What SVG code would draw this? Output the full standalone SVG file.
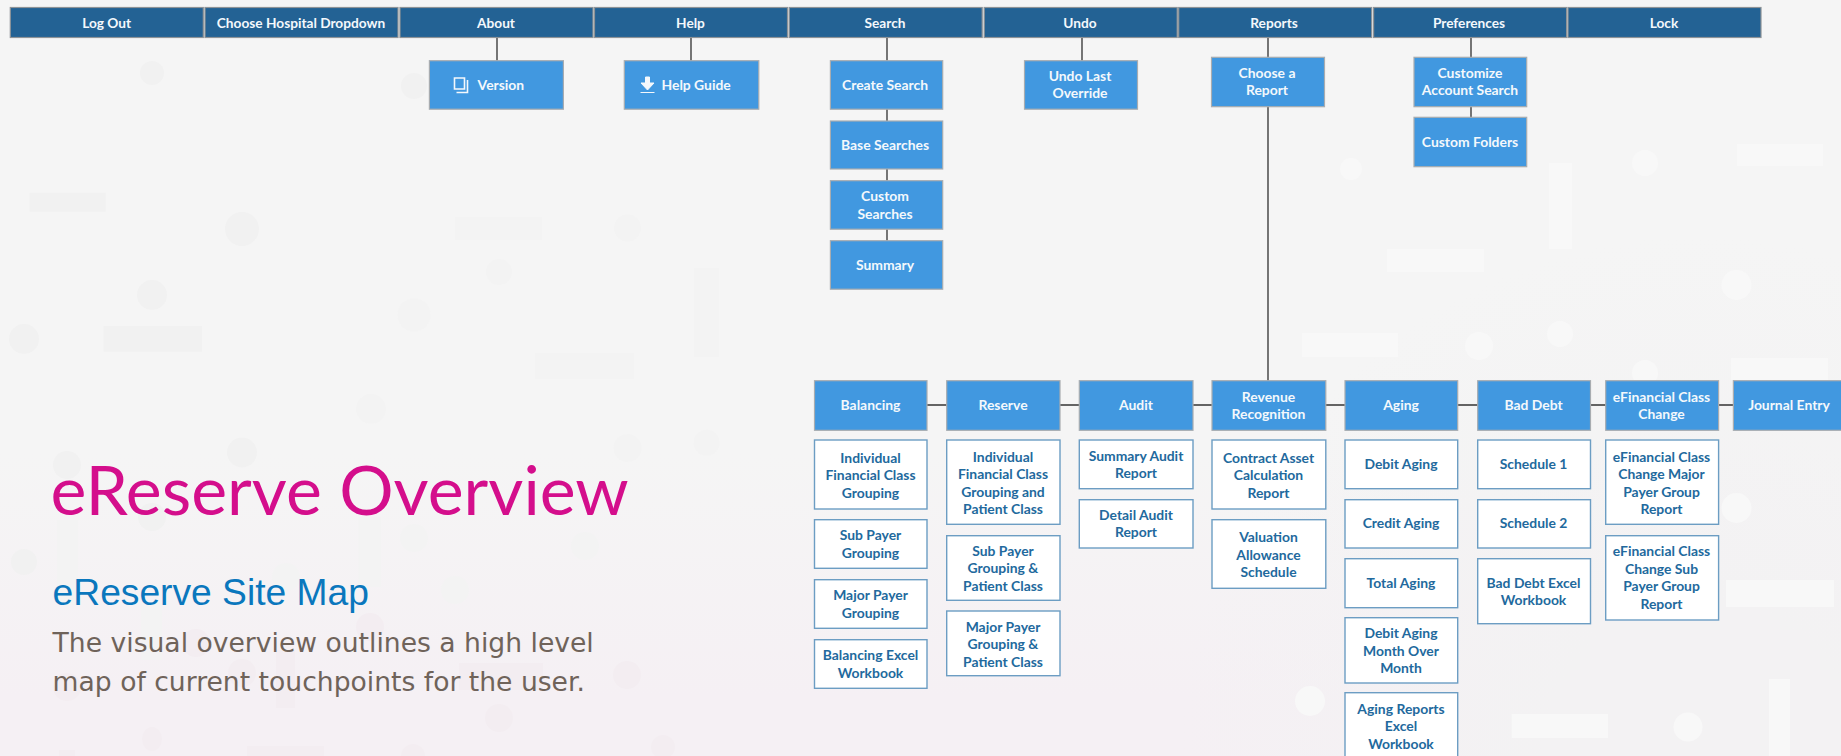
<svg xmlns="http://www.w3.org/2000/svg" width="1841" height="756" viewBox="0 0 1841 756">
<style>
text{font-family:"Lato","Noto Sans",sans-serif;font-weight:700;font-size:13.9px;text-anchor:middle}
.top rect{fill:#236294;stroke:#8e9397;stroke-width:1.2}
.top text{font-size:13.7px}
.top text,.blue text{fill:#f4f8fc}
.blue rect{fill:#4198e0;stroke:#a8acb0;stroke-width:1.2}
.sub rect{fill:#fff;stroke:#6c9dc3;stroke-width:1.4}
.sub text{fill:#22699d}
.dk{fill:#f1f1f1}.md{fill:#f3f3f3}.lt{fill:#f8f8f8}.pk{fill:#f3edf1}
#connectors path{stroke:#555;stroke-width:1.6;fill:none}
#connectors path.h{stroke:#333}
</style>
<defs>
<linearGradient id="bg" x1="0" y1="0" x2="0" y2="1"><stop offset="0.6" stop-color="#f5f5f5"/><stop offset="0.92" stop-color="#f5f0f4"/></linearGradient>
<radialGradient id="gr" gradientUnits="userSpaceOnUse" cx="1700" cy="756" r="520"><stop offset="0.3" stop-color="#f3f2f3"/><stop offset="1" stop-color="#f3f2f3" stop-opacity="0"/></radialGradient>
</defs>
<rect width="1841" height="756" fill="url(#bg)"/>
<rect width="1841" height="756" fill="url(#gr)"/>
<g id="background">
<g class="dk">
<ellipse cx="152" cy="73" rx="12" ry="12"/><ellipse cx="242" cy="229" rx="17" ry="17"/><ellipse cx="152" cy="295" rx="15" ry="15"/><ellipse cx="24" cy="339" rx="15" ry="15"/><ellipse cx="414" cy="86" rx="13" ry="13"/>
<rect x="29.600" y="192.700" width="76" height="19"/><rect x="103.600" y="326" width="98.400" height="25.700"/>
<ellipse cx="242" cy="452.500" rx="15" ry="15"/><ellipse cx="67" cy="465" rx="14" ry="14"/><ellipse cx="152" cy="517" rx="14" ry="14"/><ellipse cx="24" cy="562" rx="13" ry="13"/>
</g>
<g class="md">
<ellipse cx="414" cy="315" rx="16.500" ry="16.500"/><ellipse cx="499" cy="272" rx="13" ry="13"/><ellipse cx="627.500" cy="228" rx="13.500" ry="13.500"/><ellipse cx="371" cy="409" rx="15" ry="15"/><ellipse cx="627.500" cy="448" rx="14" ry="14"/><ellipse cx="706.600" cy="442.700" rx="13" ry="13"/><ellipse cx="414" cy="538" rx="14" ry="14"/><ellipse cx="585" cy="546" rx="14" ry="14"/><ellipse cx="286" cy="577" rx="14" ry="14"/><ellipse cx="455" cy="590" rx="14" ry="14"/>
<rect x="455" y="216.700" width="87" height="23.300"/><rect x="535" y="352.700" width="99" height="26.600"/><rect x="694" y="268" width="25" height="89"/><rect x="57" y="520" width="21" height="85"/><rect x="358.600" y="517" width="22.400" height="70"/><rect x="141" y="603" width="21" height="57"/>
</g>
<g class="pk">
<ellipse cx="370" cy="627" rx="14" ry="14"/><ellipse cx="196" cy="643" rx="14" ry="14"/><ellipse cx="242" cy="673" rx="14" ry="14"/><ellipse cx="67" cy="687" rx="14" ry="14"/><ellipse cx="627" cy="675" rx="14" ry="14"/><ellipse cx="152" cy="739" rx="10" ry="12"/><ellipse cx="499" cy="718" rx="14" ry="14"/><ellipse cx="413" cy="756" rx="12" ry="12"/><ellipse cx="663" cy="747" rx="12" ry="12"/>
<rect x="276" y="650" width="19" height="58"/><rect x="459" y="663" width="84" height="27"/><rect x="247" y="746" width="77" height="10"/><rect x="59" y="750" width="16" height="6"/>
</g>
<g class="lt">
<rect x="1549" y="163" width="23" height="86"/><rect x="1387" y="249" width="97" height="23"/><rect x="1737" y="144" width="86" height="22"/><rect x="1302" y="333" width="96" height="24"/><rect x="1731" y="358" width="97" height="22"/><rect x="1726" y="580" width="108" height="27"/><rect x="1511.700" y="714" width="96.300" height="24"/><rect x="1769" y="679" width="21" height="77"/>
<ellipse cx="1351" cy="169" rx="11" ry="11"/><ellipse cx="1645" cy="163" rx="13" ry="13"/><ellipse cx="1736.500" cy="285" rx="15" ry="15"/><ellipse cx="1479" cy="346" rx="14" ry="14"/><ellipse cx="1560" cy="334" rx="13" ry="13"/><ellipse cx="1645" cy="373" rx="13" ry="13"/><ellipse cx="1736.500" cy="508" rx="15" ry="15"/><ellipse cx="1688" cy="727" rx="14.500" ry="14.500"/><ellipse cx="1310" cy="701" rx="15" ry="15"/>
</g>
</g>
<g id="connectors">
<path d="M497 37V61M691 37V61M887 37V241M1082 37V61M1268 37V381M1471 37V118"/>
<path class="h" d="M927 405H1734"/>
</g>
<g id="title">
<text x="50.5" y="515" style="font-family:'Lato',sans-serif;font-weight:400;font-size:68px;text-anchor:start;fill:#d40e8c">eReserve Overview</text>
<text x="52.6" y="605" style="font-family:'Liberation Sans',sans-serif;font-weight:400;font-size:37.2px;text-anchor:start;fill:#0a77bd">eReserve Site Map</text>
<text x="52.6" y="652" style="font-family:'DejaVu Sans',sans-serif;font-weight:400;font-size:26.6px;text-anchor:start;fill:#6f635a">The visual overview outlines a high level</text>
<text x="52.6" y="691" style="font-family:'DejaVu Sans',sans-serif;font-weight:400;font-size:26.6px;text-anchor:start;fill:#6f635a">map of current touchpoints for the user.</text>
</g>
<g class="top">
<g id="log-out"><rect x="10.3" y="7.5" width="193" height="30"/><text x="106.6" y="27.5">Log Out</text></g>
<g id="choose-hospital"><rect x="205" y="7.5" width="193" height="30"/><text x="301" y="27.5">Choose Hospital Dropdown</text></g>
<g id="about"><rect x="400" y="7.5" width="193" height="30"/><text x="496" y="27.5">About</text></g>
<g id="help"><rect x="594.5" y="7.5" width="193" height="30"/><text x="690.5" y="27.5">Help</text></g>
<g id="search"><rect x="789.2" y="7.5" width="193" height="30"/><text x="885" y="27.5">Search</text></g>
<g id="undo"><rect x="984.2" y="7.5" width="193" height="30"/><text x="1080" y="27.5">Undo</text></g>
<g id="reports"><rect x="1178.7" y="7.5" width="193" height="30"/><text x="1274" y="27.5">Reports</text></g>
<g id="preferences"><rect x="1373.6" y="7.5" width="193" height="30"/><text x="1469" y="27.5">Preferences</text></g>
<g id="lock"><rect x="1568" y="7.5" width="193" height="30"/><text x="1664" y="27.5">Lock</text></g>
</g>
<g class="blue">
<g id="version"><rect x="429.4" y="60.7" width="134" height="48.5"/>
<path d="M454.5 78h10v11h-10z M467.5 80v12.5h-11" fill="none" stroke="#f4f8fc" stroke-width="1.6"/>
<text x="477.6" y="90" style="text-anchor:start">Version</text></g>
<g id="help-guide"><rect x="624.3" y="60.7" width="134.5" height="48.5"/>
<path d="M645.5 77h4v6h4.500l-6.500 7-6.500-7h4.500zM640.500 92.500h14" fill="#f4f8fc" stroke="#f4f8fc" stroke-width="1"/>
<text x="661.5" y="90" style="text-anchor:start">Help Guide</text></g>
<g id="create-search"><rect x="830.4" y="60.7" width="112.300" height="48.5"/><text x="885" y="89.5">Create Search</text></g>
<g id="base-searches"><rect x="830.4" y="121" width="112.300" height="48"/><text x="885" y="150">Base Searches</text></g>
<g id="custom-searches"><rect x="830.4" y="180.700" width="112.300" height="48.500"/><text x="885" y="201">Custom</text><text x="885" y="218.500">Searches</text></g>
<g id="summary"><rect x="830.4" y="240.700" width="112.300" height="48.500"/><text x="885" y="270">Summary</text></g>
<g id="undo-last"><rect x="1024.500" y="60.700" width="113" height="48.500"/><text x="1080" y="81">Undo Last</text><text x="1080" y="98.300">Override</text></g>
<g id="choose-report"><rect x="1211.500" y="57.300" width="113" height="49.400"/><text x="1267" y="77.700">Choose a</text><text x="1267" y="95.200">Report</text></g>
<g id="customize"><rect x="1414" y="57.300" width="112.700" height="49.400"/><text x="1470" y="77.700">Customize</text><text x="1470" y="95.200">Account Search</text></g>
<g id="custom-folders"><rect x="1414" y="117.300" width="112.700" height="49.400"/><text x="1470" y="146.700">Custom Folders</text></g>
<g id="balancing"><rect x="814.500" y="380.700" width="112.500" height="49.600"/><text x="870.500" y="410.300">Balancing</text></g>
<g id="reserve"><rect x="946.700" y="380.700" width="113.300" height="49.600"/><text x="1003" y="410.300">Reserve</text></g>
<g id="audit"><rect x="1079.300" y="380.700" width="113.700" height="49.600"/><text x="1136" y="410.300">Audit</text></g>
<g id="revenue-recognition"><rect x="1212" y="380.700" width="113.800" height="49.600"/><text x="1268.500" y="401.500">Revenue</text><text x="1268.500" y="419">Recognition</text></g>
<g id="aging"><rect x="1345" y="380.700" width="112.700" height="49.600"/><text x="1401" y="410.300">Aging</text></g>
<g id="bad-debt"><rect x="1477.700" y="380.700" width="112.800" height="49.600"/><text x="1533.500" y="410.300">Bad Debt</text></g>
<g id="efinancial"><rect x="1605.700" y="380.700" width="112.900" height="49.600"/><text x="1661.500" y="401.500">eFinancial Class</text><text x="1661.500" y="419">Change</text></g>
<g id="journal-entry"><rect x="1733.400" y="380.700" width="113" height="49.600"/><text x="1789" y="410.300">Journal Entry</text></g>
</g>
<g class="sub">
<g id="bal-1"><rect x="814.500" y="440" width="112.500" height="69"/><text x="870.500" y="462.500">Individual</text><text x="870.500" y="480">Financial Class</text><text x="870.500" y="497.500">Grouping</text></g>
<g id="bal-2"><rect x="814.500" y="519.700" width="112.500" height="48.600"/><text x="870.500" y="540">Sub Payer</text><text x="870.500" y="557.500">Grouping</text></g>
<g id="bal-3"><rect x="814.500" y="579.700" width="112.500" height="48.600"/><text x="870.500" y="600">Major Payer</text><text x="870.500" y="617.500">Grouping</text></g>
<g id="bal-4"><rect x="814.500" y="639.700" width="112.500" height="48.600"/><text x="870.500" y="660">Balancing Excel</text><text x="870.500" y="677.500">Workbook</text></g>
<g id="res-1"><rect x="946.700" y="440" width="113.300" height="84.300"/><text x="1003" y="461.700">Individual</text><text x="1003" y="479">Financial Class</text><text x="1003" y="496.500">Grouping and</text><text x="1003" y="514">Patient Class</text></g>
<g id="res-2"><rect x="946.700" y="535.700" width="113.300" height="64.600"/><text x="1003" y="555.700">Sub Payer</text><text x="1003" y="573.200">Grouping &amp;</text><text x="1003" y="590.700">Patient Class</text></g>
<g id="res-3"><rect x="946.700" y="611" width="113.300" height="64.700"/><text x="1003" y="631.700">Major Payer</text><text x="1003" y="649">Grouping &amp;</text><text x="1003" y="666.500">Patient Class</text></g>
<g id="aud-1"><rect x="1079.300" y="440" width="113.700" height="48.700"/><text x="1136" y="460.700">Summary Audit</text><text x="1136" y="478">Report</text></g>
<g id="aud-2"><rect x="1079.300" y="499.700" width="113.700" height="48.300"/><text x="1136" y="519.700">Detail Audit</text><text x="1136" y="537">Report</text></g>
<g id="rev-1"><rect x="1212" y="440" width="113.800" height="69"/><text x="1268.500" y="462.500">Contract Asset</text><text x="1268.500" y="480">Calculation</text><text x="1268.500" y="497.500">Report</text></g>
<g id="rev-2"><rect x="1212" y="519.700" width="113.800" height="68.600"/><text x="1268.500" y="542">Valuation</text><text x="1268.500" y="559.500">Allowance</text><text x="1268.500" y="577">Schedule</text></g>
<g id="age-1"><rect x="1345" y="440" width="112.700" height="48.700"/><text x="1401" y="469.300">Debit Aging</text></g>
<g id="age-2"><rect x="1345" y="499.700" width="112.700" height="48.300"/><text x="1401" y="528.300">Credit Aging</text></g>
<g id="age-3"><rect x="1345" y="558.700" width="112.700" height="49"/><text x="1401" y="587.700">Total Aging</text></g>
<g id="age-4"><rect x="1345" y="617.700" width="112.700" height="65.300"/><text x="1401" y="638">Debit Aging</text><text x="1401" y="655.500">Month Over</text><text x="1401" y="673">Month</text></g>
<g id="age-5"><rect x="1345" y="692.700" width="112.700" height="66"/><text x="1401" y="713.700">Aging Reports</text><text x="1401" y="731">Excel</text><text x="1401" y="748.500">Workbook</text></g>
<g id="bad-1"><rect x="1477.700" y="440" width="112.800" height="48.700"/><text x="1533.500" y="469">Schedule 1</text></g>
<g id="bad-2"><rect x="1477.700" y="499.700" width="112.800" height="48.300"/><text x="1533.500" y="528">Schedule 2</text></g>
<g id="bad-3"><rect x="1477.700" y="558.700" width="112.800" height="65"/><text x="1533.500" y="587.700">Bad Debt Excel</text><text x="1533.500" y="605">Workbook</text></g>
<g id="efin-1"><rect x="1605.700" y="440" width="112.900" height="84.300"/><text x="1661.500" y="461.700">eFinancial Class</text><text x="1661.500" y="479">Change Major</text><text x="1661.500" y="496.500">Payer Group</text><text x="1661.500" y="514">Report</text></g>
<g id="efin-2"><rect x="1605.700" y="535.700" width="112.900" height="84.300"/><text x="1661.500" y="556">eFinancial Class</text><text x="1661.500" y="573.500">Change Sub</text><text x="1661.500" y="591">Payer Group</text><text x="1661.500" y="608.500">Report</text></g>
</g>
</svg>
